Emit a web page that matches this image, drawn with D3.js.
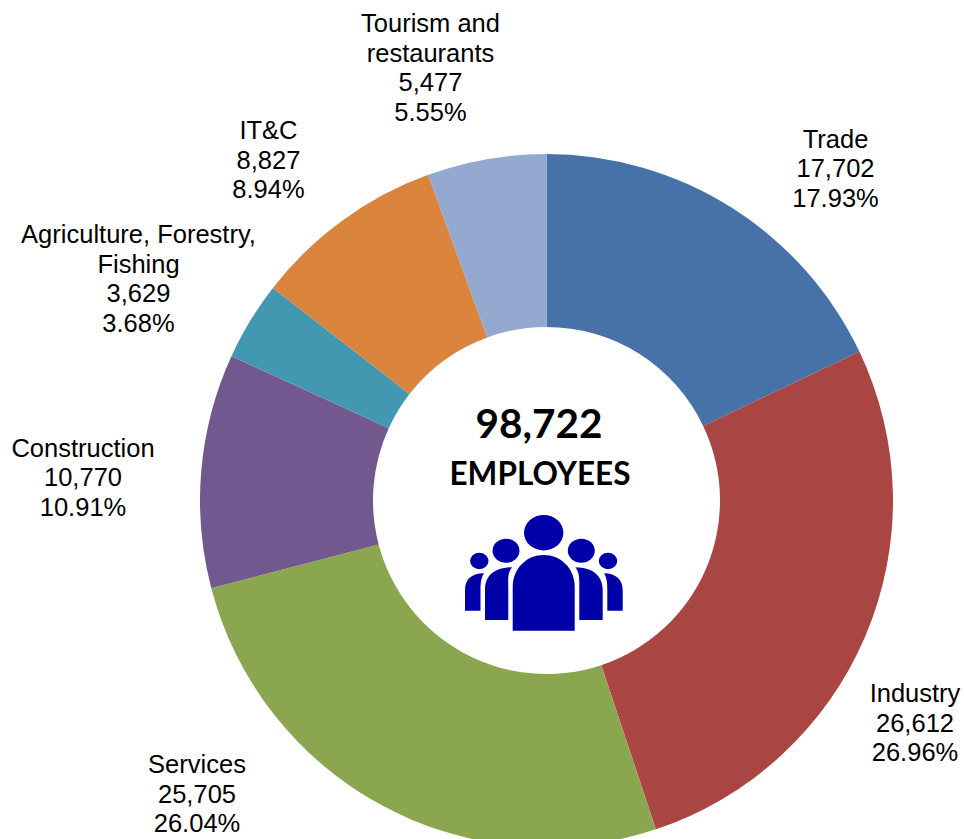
<!DOCTYPE html>
<html><head><meta charset="utf-8">
<script src="https://cdn.jsdelivr.net/npm/d3@7"></script>
<style>html,body{margin:0;padding:0;background:#fff}svg{display:block}</style>
</head><body><svg id="c" width="964" height="839"></svg>
<script>
const categories=["Trade","Industry","Services","Construction","Agriculture, Forestry,|Fishing","IT&C","Tourism and|restaurants"];
const employees=[17702,26612,25705,10770,3629,8827,5477];
const shares=["17.93%","26.96%","26.04%","10.91%","3.68%","8.94%","5.55%"];
const sliceColors=["#4672a8","#a94644","#8aa64e","#72588e","#4298b0","#db843d","#93a9cf"];
const totalLabel="98,722", unitLabel="EMPLOYEES";

// layout, kept apart from the data
const cx=546.5, cy=500.5, R=346.5, r=173.5;
const labelCentres=[[835.5,139],[915,693.5],[197,764.5],[83,448],[138.5,234.5],[268.5,130.5],[430.5,23.5]];
const lineH=29.6;

const svg=d3.select("#c");
const pie=d3.pie().sort(null).value(d=>d)(employees);
const arc=d3.arc().innerRadius(r).outerRadius(R);
svg.append("g").attr("transform",`translate(${cx},${cy})`)
  .selectAll("path").data(pie).join("path")
  .attr("d",arc).attr("fill",(d,i)=>sliceColors[i]);

const fmt=d3.format(",");
const labels=svg.append("g").attr("font-family","'Liberation Sans',Arial,sans-serif")
  .attr("font-size",25.5).attr("fill","#000").attr("text-anchor","middle");
categories.forEach((c,i)=>{
  const lines=[...c.split("|"),fmt(employees[i]),shares[i]];
  const t=labels.append("text");
  lines.forEach((l,j)=>t.append("tspan").attr("x",labelCentres[i][0])
    .attr("y",labelCentres[i][1]+j*lineH+8.7).text(l));
});

const ctr=svg.append("g").attr("font-family","Lato,'Open Sans',sans-serif")
  .attr("font-weight",700).attr("fill","#000").attr("text-anchor","middle");
ctr.append("text").attr("x",539).attr("y",438).attr("font-size",40.5).text(totalLabel);
ctr.append("text").attr("x",540).attr("y",485).attr("font-size",31.5).text(unitLabel);

// people icon
const ic=svg.append("g").attr("fill","#0000a8");
[[543.7,532.7,19.7,17.7],[506,550.7,13.5,12],[581.3,550.7,13.5,12],[479.3,561,9.2,8.2],[608,561,9.2,8.2]]
 .forEach(e=>ic.append("ellipse").attr("cx",e[0]).attr("cy",e[1]).attr("rx",e[2]).attr("ry",e[3]));
ic.append("path").attr("d","M512.7 630.7V587C512.7 568 527 555 543.7 555C560.4 555 574.7 568 574.7 587V630.7Z");
ic.append("path").attr("d","M485 620V590C485 576 494 567.5 512 567.3C507 574 508.3 580 508.3 590V620Z");
ic.append("path").attr("d","M602.7 620V590C602.7 576 593 567.5 575.5 567.3C580 574 579.3 580 579.3 590V620Z");
ic.append("path").attr("d","M465 610.7V590C465 579 472 573.3 484 573.3C481 578 480.5 584 480.5 590V610.7Z");
ic.append("path").attr("d","M622.7 610.7V590C622.7 579 615 573.3 604 573.3C607 578 607.3 584 607.3 590V610.7Z");
</script></body></html>
